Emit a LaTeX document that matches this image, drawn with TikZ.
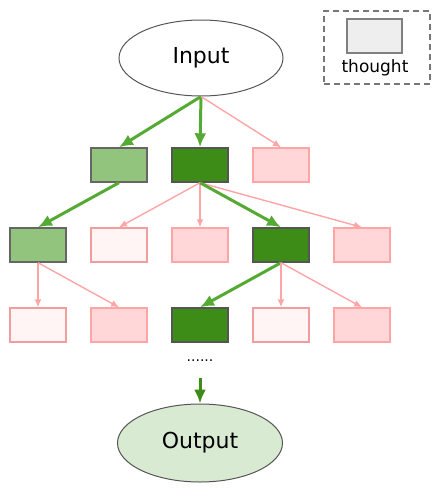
\documentclass[tikz,border=0pt]{standalone}
\usepackage{fontspec}
\setmainfont{DejaVu Sans}
\usetikzlibrary{arrows.meta, shapes.geometric}
\definecolor{edge-gray}{HTML}{555555}
\definecolor{keep-dark}{HTML}{3D8C17}
\definecolor{keep-light}{HTML}{93C47D}
\definecolor{drop-pink}{HTML}{FFD7D9}
\definecolor{drop-pale}{HTML}{FFF5F5}
\definecolor{drop-line}{HTML}{FFA5A5}
\definecolor{path-green}{HTML}{55AA33}
\definecolor{out-green}{HTML}{D9EAD3}
\definecolor{legend-fill}{HTML}{EEEEEE}

\begin{document}
\begin{tikzpicture}[x=1pt, y=-1pt,
    thought/.style={draw, line width=1.4pt, minimum width=56pt, minimum height=34pt, inner sep=0pt},
    darkbox/.style={thought, fill=keep-dark, draw=edge-gray},
    lightbox/.style={thought, fill=keep-light, draw=edge-gray!90},
    pinkbox/.style={thought, fill=drop-pink, draw=drop-line},
    palebox/.style={thought, fill=drop-pale, draw=drop-line!95!black},
    goodpath/.style={-{Latex[length=14pt, width=12pt]}, line width=3pt, color=path-green},
    badpath/.style={-{Latex[length=8pt, width=7pt]}, line width=1.4pt, color=drop-line}]
    % Tree of thoughts: kept path in green, discarded ones in pink.
    % Coordinates: (x, y) in px, y grows down
    %   rows at y=165, 245, 325; columns at x=38, 119, 200, 281, 362
    \useasboundingbox (0,0) rectangle (440,496);
    \node[draw=edge-gray, line width=1pt, ellipse, minimum width=164pt, minimum height=76pt,
          font=\fontsize{22}{26}\selectfont] (input) at (201,58) {Input};
    % legend
    \node[draw=edge-gray!80, dash pattern=on 6pt off 4pt, line width=1.2pt, minimum width=106pt,
          minimum height=73pt, inner sep=0pt] (legend) at (377,47.5) {};
    \node[draw=gray, fill=legend-fill, line width=1.5pt, minimum width=55pt, minimum height=34pt,
          inner sep=0pt] (legendbox) at (374.5,36) {};
    \node[font=\fontsize{17}{20}\selectfont] (legendtext) at (375,68) {thought};
    % row 1
    \node[lightbox] (a1) at (119,165) {};
    \node[darkbox]  (a2) at (200,165) {};
    \node[pinkbox]  (a3) at (281,165) {};
    % row 2
    \node[lightbox] (b1) at (38,245) {};
    \node[palebox]  (b2) at (119,245) {};
    \node[pinkbox]  (b3) at (200,245) {};
    \node[darkbox]  (b4) at (281,245) {};
    \node[pinkbox]  (b5) at (362,245) {};
    % row 3
    \node[palebox]  (c1) at (38,325) {};
    \node[pinkbox]  (c2) at (119,325) {};
    \node[darkbox]  (c3) at (200,325) {};
    \node[palebox]  (c4) at (281,325) {};
    \node[pinkbox]  (c5) at (362,325) {};
    \node[font=\fontsize{14}{16}\selectfont] (dots) at (200,361) {......};
    \coordinate (dotsend) at (200,378);
    \node[draw=edge-gray, line width=1pt, ellipse, fill=out-green, minimum width=165pt,
          minimum height=78pt, font=\fontsize{22}{26}\selectfont] (output) at (200,443) {Output};
    % connectors
    \draw[goodpath] (input.south) -- (a1.north);
    \draw[goodpath] (input.south) -- (a2.north);
    \draw[badpath]  (input.south) -- (a3.north);
    \draw[goodpath] (a1.south) -- (b1.north);
    \foreach \t in {b2,b3,b5}
      \draw[badpath] (a2.south) -- (\t.north);
    \draw[goodpath] (a2.south) -- (b4.north);
    \foreach \t in {c1,c2}
      \draw[badpath] (b1.south) -- (\t.north);
    \draw[goodpath] (b4.south) -- (c3.north);
    \foreach \t in {c4,c5}
      \draw[badpath] (b4.south) -- (\t.north);
    \draw[goodpath, color=keep-dark] (dotsend) -- (output.north);
  \end{tikzpicture}
\end{document}
